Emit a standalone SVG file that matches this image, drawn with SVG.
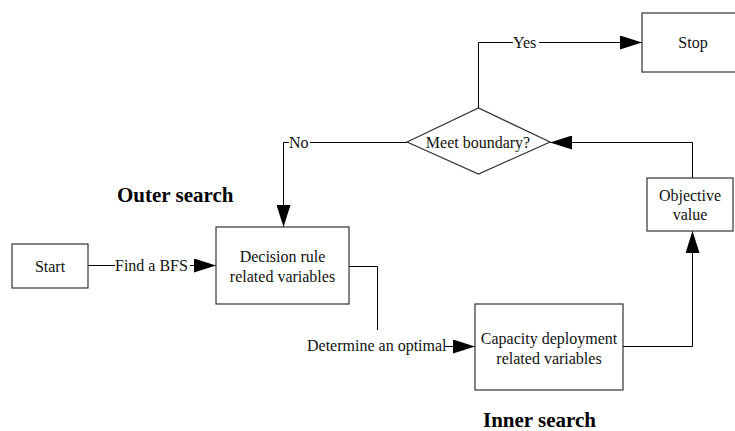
<svg xmlns="http://www.w3.org/2000/svg" width="735" height="431" viewBox="0 0 735 431">
<defs>
<marker id="ah" viewBox="0 0 22 14" refX="22" refY="7" markerWidth="22" markerHeight="14" markerUnits="userSpaceOnUse" orient="auto">
<path d="M0,0 L22,7 L0,14 Z" fill="#000"/>
</marker>
<style>
.box{fill:#fff;stroke:#333;stroke-width:1.2}
.ln{fill:none;stroke:#000;stroke-width:1}
.t{font-size:16px;fill:#111;text-anchor:middle}
.lb{font-size:16px;fill:#111}
.h{font-size:21px;font-weight:bold;fill:#000}
</style>
</defs>
<rect width="735" height="431" fill="#fff"/>
<g font-family="'Liberation Serif', 'Times New Roman', serif">
<g id="connectors">
<path class="ln" d="M88,265.5 H115"/>
<path class="ln" d="M190,265.5 H216" marker-end="url(#ah)"/>
<path class="ln" d="M349,266.5 H377.5 V330"/>
<path class="ln" d="M445,346.5 H475" marker-end="url(#ah)"/>
<path class="ln" d="M623,346.5 H692.5 V231" marker-end="url(#ah)"/>
<path class="ln" d="M692.5,178 V142.5 H550" marker-end="url(#ah)"/>
<path class="ln" d="M478.5,108 V42.5 H513"/>
<path class="ln" d="M539,42.5 H642" marker-end="url(#ah)"/>
<path class="ln" d="M407,142.5 H310"/>
<path class="ln" d="M289,142.5 H283.5 V227" marker-end="url(#ah)"/>
<text class="lb" x="115" y="271">Find a BFS</text>
<text class="lb" x="307" y="351">Determine an optimal</text>
<text class="lb" x="513" y="48">Yes</text>
<text class="lb" x="289" y="148">No</text>
</g>
<g id="start"><rect class="box" x="12" y="244" width="76" height="44"/><text class="t" x="50" y="272">Start</text></g>
<g id="decision"><rect class="box" x="216" y="227" width="133" height="77"/><text class="t" x="282.5" y="262">Decision rule</text><text class="t" x="282.5" y="282">related variables</text></g>
<g id="capacity"><rect class="box" x="475" y="304" width="148" height="86"/><text class="t" x="549" y="344">Capacity deployment</text><text class="t" x="549" y="364">related variables</text></g>
<g id="objective"><rect class="box" x="647" y="178" width="86" height="53"/><text class="t" x="690" y="201">Objective</text><text class="t" x="690" y="220">value</text></g>
<g id="boundary"><polygon class="box" points="407,142 478.5,108 550,142 478.5,174"/><text class="t" x="478" y="148">Meet boundary?</text></g>
<g id="stop"><rect class="box" x="642" y="13" width="100" height="59"/><text class="t" x="693" y="48">Stop</text></g>
<text class="h" x="117" y="202">Outer search</text>
<text class="h" x="483" y="427">Inner search</text>
</g>
</svg>
